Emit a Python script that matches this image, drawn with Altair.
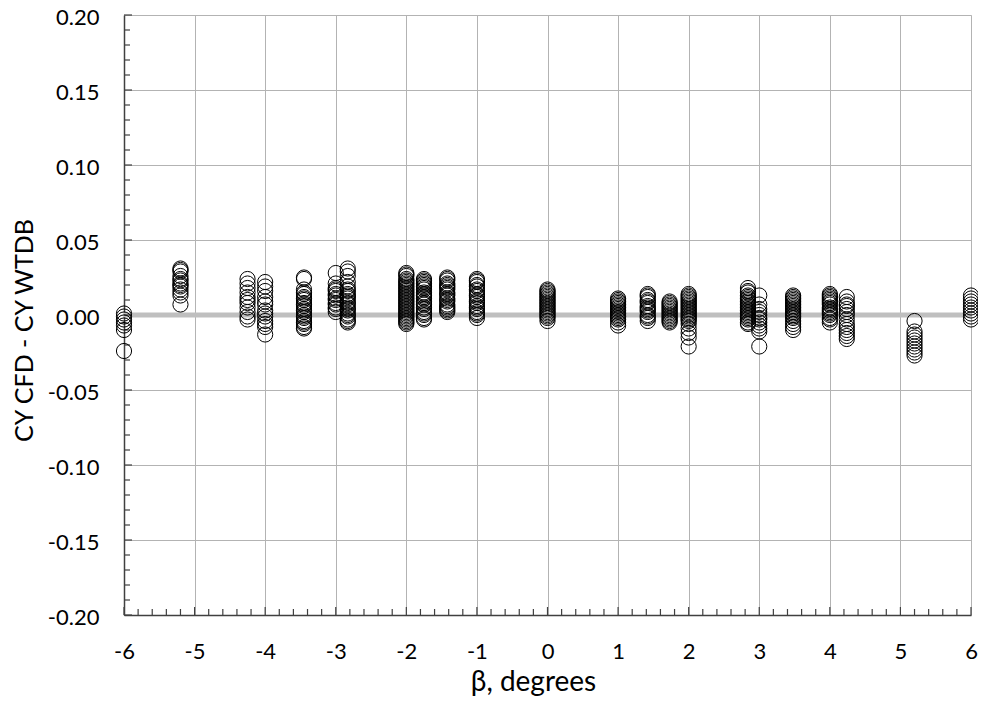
import altair as alt
import pandas as pd

# Beta positions of each cluster (degrees)
beta_positions = [-6.0, -5.2, -4.25, -4.0, -3.45, -3.0, -2.83, -2.0, -1.75, -1.42, -1.0,
                  0.0, 1.0, 1.42, 1.73, 2.0, 2.84, 3.0, 3.48, 4.0, 4.24, 5.2, 6.0]

# CY CFD - CY WTDB values per cluster
cy_m6_00 = [0.001, -0.001, -0.003, -0.005, -0.007, -0.010, -0.024]
cy_m5_20 = [0.031, 0.030, 0.029, 0.026, 0.024, 0.023, 0.021, 0.020, 0.019, 0.017, 0.015, 0.013, 0.007]
cy_m4_25 = [0.024, 0.021, 0.018, 0.015, 0.012, 0.010, 0.008, 0.005, 0.002, -0.001, -0.003]
cy_m4_00 = [0.022, 0.019, 0.016, 0.012, 0.009, 0.007, 0.003, 0.001, -0.001, -0.004, -0.006, -0.008, -0.013]
cy_m3_45 = [0.025, 0.024, 0.017, 0.015, 0.014, 0.012, 0.011, 0.010, 0.008, 0.007, 0.006, 0.004, 0.003,
            0.002, 0.000, -0.001, -0.002, -0.004, -0.005, -0.006, -0.008, -0.009]
cy_m3_00 = [0.028, 0.021, 0.018, 0.017, 0.016, 0.014, 0.013, 0.011, 0.010, 0.008, 0.007, 0.005, 0.004, 0.002]
cy_m2_83 = [0.031, 0.029, 0.026, 0.022, 0.019, 0.017, 0.016, 0.014, 0.013, 0.012, 0.011, 0.009, 0.008,
            0.007, 0.005, 0.004, 0.003, 0.001, 0.000, -0.001, -0.003, -0.004, -0.005]
cy_m2_00 = [0.028, 0.027, 0.026, 0.024, 0.023, 0.022, 0.021, 0.020, 0.019, 0.018, 0.017, 0.016, 0.015,
            0.014, 0.013, 0.012, 0.011, 0.010, 0.009, 0.008, 0.007, 0.006, 0.005, 0.004, 0.003, 0.002,
            0.001, 0.000, -0.001, -0.002, -0.003, -0.004, -0.005, -0.006]
cy_m1_75 = [0.024, 0.023, 0.022, 0.021, 0.020, 0.019, 0.018, 0.017, 0.015, 0.014, 0.013, 0.012, 0.011,
            0.009, 0.008, 0.007, 0.005, 0.004, 0.002, 0.001, 0.000, -0.002, -0.003]
cy_m1_42 = [0.025, 0.024, 0.023, 0.021, 0.020, 0.019, 0.018, 0.017, 0.015, 0.014, 0.013, 0.011, 0.010,
            0.009, 0.007, 0.006, 0.005, 0.004, 0.003, 0.002]
cy_m1_00 = [0.024, 0.023, 0.022, 0.020, 0.019, 0.017, 0.016, 0.014, 0.013, 0.012, 0.010, 0.009, 0.008,
            0.006, 0.005, 0.004, 0.002, 0.001, 0.000, -0.002]
cy_p0_00 = [0.017, 0.016, 0.015, 0.014, 0.013, 0.012, 0.011, 0.010, 0.009, 0.008, 0.007, 0.006, 0.005,
            0.004, 0.003, 0.002, 0.001, 0.000, -0.001, -0.002, -0.004]
cy_p1_00 = [0.011, 0.010, 0.009, 0.008, 0.007, 0.006, 0.005, 0.004, 0.003, 0.002, 0.001, 0.000, -0.001,
            -0.002, -0.003, -0.005, -0.007]
cy_p1_42 = [0.014, 0.013, 0.012, 0.010, 0.009, 0.008, 0.006, 0.005, 0.004, 0.003, 0.002, 0.000, -0.001,
            -0.002, -0.004]
cy_p1_73 = [0.009, 0.008, 0.007, 0.006, 0.005, 0.004, 0.003, 0.002, 0.001, 0.000, -0.001, -0.002, -0.003,
            -0.004, -0.005]
cy_p2_00 = [0.014, 0.013, 0.012, 0.011, 0.010, 0.009, 0.008, 0.007, 0.006, 0.005, 0.004, 0.003, 0.002,
            0.001, 0.000, -0.001, -0.002, -0.003, -0.004, -0.006, -0.009, -0.012, -0.015, -0.021]
cy_p2_84 = [0.018, 0.016, 0.015, 0.013, 0.012, 0.011, 0.010, 0.009, 0.008, 0.007, 0.006, 0.005, 0.004,
            0.003, 0.002, 0.001, 0.000, -0.001, -0.002, -0.003, -0.005, -0.006]
cy_p3_00 = [0.013, 0.007, 0.004, 0.002, 0.000, -0.002, -0.003, -0.005, -0.007, -0.009, -0.011, -0.021]
cy_p3_48 = [0.013, 0.012, 0.011, 0.010, 0.009, 0.008, 0.007, 0.006, 0.005, 0.004, 0.003, 0.002, 0.001,
            0.000, -0.001, -0.002, -0.004, -0.006, -0.008, -0.010]
cy_p4_00 = [0.014, 0.013, 0.012, 0.011, 0.010, 0.009, 0.008, 0.007, 0.005, 0.004, 0.003, 0.002, 0.001,
            0.000, -0.002, -0.003, -0.005]
cy_p4_24 = [0.012, 0.009, 0.007, 0.006, 0.004, 0.002, 0.000, -0.003, -0.006, -0.008, -0.010, -0.012,
            -0.014, -0.016]
cy_p5_20 = [-0.004, -0.011, -0.013, -0.015, -0.017, -0.019, -0.021, -0.023, -0.025, -0.027]
cy_p6_00 = [0.013, 0.011, 0.009, 0.007, 0.005, 0.003, 0.001, -0.001, -0.003]

clusters = [cy_m6_00, cy_m5_20, cy_m4_25, cy_m4_00, cy_m3_45, cy_m3_00, cy_m2_83, cy_m2_00,
            cy_m1_75, cy_m1_42, cy_m1_00, cy_p0_00, cy_p1_00, cy_p1_42, cy_p1_73, cy_p2_00,
            cy_p2_84, cy_p3_00, cy_p3_48, cy_p4_00, cy_p4_24, cy_p5_20, cy_p6_00]

x_major = [-6, -5, -4, -3, -2, -1, 0, 1, 2, 3, 4, 5, 6]
y_major = [-0.20, -0.15, -0.10, -0.05, 0.00, 0.05, 0.10, 0.15, 0.20]
x_minor = [i / 5 for i in range(-30, 31) if i % 5 != 0]
y_minor = [i / 100 for i in range(-20, 21) if i % 5 != 0]

rows = []
for b, vals in zip(beta_positions, clusters):
    for v in vals:
        rows.append({"beta": b, "dcy": v})
df = pd.DataFrame(rows)

FONT = "Lato"
xscale = alt.Scale(domain=[-6, 6], nice=False, zero=False)
yscale = alt.Scale(domain=[-0.2, 0.2], nice=False, zero=False)

x_axis = alt.Axis(values=x_major, labelExpr="replace(format(datum.value, 'd'), '−', '-')",
                  ticks=False, tickSize=0, labelPadding=26, labelFontSize=22, labelColor="#000000",
                  labelFont=FONT, labelFlush=False, domain=True, domainColor="#404040", domainWidth=1.5,
                  grid=True, gridColor="#b3b3b3", gridWidth=1,
                  title="β, degrees", titleFont=FONT, titleFontSize=28, titleFontWeight="normal",
                  titleColor="#000000", titleX=409, titleY=67, titleBaseline="middle", titleAlign="center")
y_axis = alt.Axis(values=y_major, labelExpr="replace(format(datum.value, '.2f'), '−', '-')",
                  ticks=False, tickSize=0, labelPadding=25, labelFontSize=22, labelColor="#000000",
                  labelFont=FONT, labelFlush=False, labelOffset=2, domain=True, domainColor="#404040",
                  domainWidth=1.5, grid=True, gridColor="#b3b3b3", gridWidth=1,
                  title="CY CFD - CY WTDB", titleFont=FONT, titleFontSize=25, titleFontWeight="normal",
                  titleColor="#000000", titleX=-100, titleY=315, titleAngle=270,
                  titleBaseline="middle", titleAlign="center")

base_points = alt.Chart(df).mark_point(
    shape="circle", filled=False, size=230, stroke="#000000", strokeWidth=1, opacity=1
).encode(
    x=alt.X("beta:Q", scale=xscale, axis=x_axis),
    y=alt.Y("dcy:Q", scale=yscale, axis=y_axis),
)

zero_df = pd.DataFrame({"x0": [-6], "x1": [6], "y0": [0.0]})
zero_line = alt.Chart(zero_df).mark_rule(color="#bfbfbf", strokeWidth=5).encode(
    x=alt.X("x0:Q", scale=xscale), x2="x1:Q", y=alt.Y("y0:Q", scale=yscale)
)

yticks_major = alt.Chart(pd.DataFrame({"v": y_major})).mark_rule(color="#404040", strokeWidth=1.2).encode(
    y=alt.Y("v:Q", scale=yscale), x=alt.value(0), x2=alt.value(8)
)
yticks_minor = alt.Chart(pd.DataFrame({"v": y_minor})).mark_rule(color="#404040", strokeWidth=1.2).encode(
    y=alt.Y("v:Q", scale=yscale), x=alt.value(0), x2=alt.value(6)
)
xticks_major = alt.Chart(pd.DataFrame({"v": x_major})).mark_rule(color="#404040", strokeWidth=1.2).encode(
    x=alt.X("v:Q", scale=xscale), y=alt.value(600), y2=alt.value(592)
)
xticks_minor = alt.Chart(pd.DataFrame({"v": x_minor})).mark_rule(color="#404040", strokeWidth=1.2).encode(
    x=alt.X("v:Q", scale=xscale), y=alt.value(600), y2=alt.value(594)
)

chart = alt.layer(zero_line, yticks_major, yticks_minor, xticks_major, xticks_minor, base_points).properties(
    width=847, height=600,
    autosize=alt.AutoSizeParams(type="none"),
    padding={"left": 116, "top": 7, "right": 7, "bottom": 82},
).configure_view(stroke=None).configure(background="#ffffff")

chart.save("out.html", embed_options={"renderer": "svg", "actions": False})
